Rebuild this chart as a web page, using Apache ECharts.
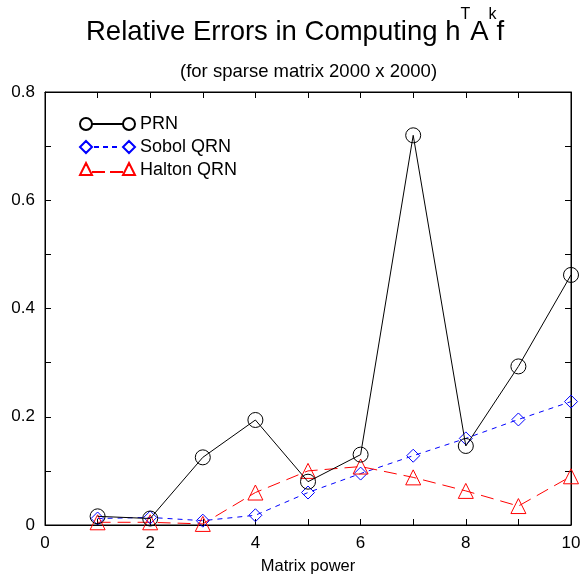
<!DOCTYPE html>
<html>
<head>
<meta charset="utf-8">
<script src="https://cdn.jsdelivr.net/npm/echarts@6/dist/echarts.min.js"></script>
<style>
  html, body { margin: 0; padding: 0; background: #fff; }
  #chart { width: 583px; height: 576px; }
</style>
</head>
<body>
<div id="chart"></div>
<script>
// matrix power k
var powers = [1, 2, 3, 4, 5, 6, 7, 8, 9, 10]
// relative errors
var prn = [0.016, 0.012, 0.125, 0.194, 0.080, 0.130, 0.720, 0.146, 0.293, 0.462]
var sobol = [0.012, 0.014, 0.008, 0.018, 0.060, 0.095, 0.128, 0.160, 0.195, 0.228]
var halton = [0.005, 0.005, 0.002, 0.060, 0.100, 0.108, 0.088, 0.063, 0.035, 0.090]

function pairs(ys) {
  return powers.map(function (k, i) { return [k, ys[i]] })
}

var font = 'Liberation Sans, Arial, Helvetica, sans-serif'
var chart = echarts.init(document.getElementById('chart'))

function tickStyle() {
  return { show: true, inside: true, length: 6, lineStyle: { color: '#000' } }
}

// legend icons: marker - line - marker, like the gnuplot key (55 x 14 box)
var iconPRN = 'path://M0 7A6 6 0 1 0 12 7A6 6 0 1 0 0 7Z' +
  'M12 7L43 7' +
  'M43 7A6 6 0 1 0 55 7A6 6 0 1 0 43 7Z'
var iconSobol = 'path://M6 1L12 7L6 13L0 7Z' +
  'M14 7L19 7M23 7L28 7M32 7L37 7' +
  'M49 1L55 7L49 13L43 7Z' + 'M6 0L6 0M6 14L6 14'
var iconHalton = 'path://M6 0L12 12L0 12Z' +
  'M12 9L25 9M30 9L43 9' +
  'M49 0L55 12L43 12Z' + 'M6 14L6 14'

chart.setOption({
  animation: false,
  textStyle: { fontFamily: font },
  title: [{
    text: '{a|Relative Errors in Computing h}{s|T}{a|A}{s|k}{a|f}',
    left: 81,
    top: 1,
    textStyle: {
      rich: {
        a: { fontSize: 27.5, fontWeight: 'normal', color: '#000', fontFamily: font, lineHeight: 40, verticalAlign: 'bottom' },
        s: { fontSize: 16, fontWeight: 'normal', color: '#000', fontFamily: font, lineHeight: 16, verticalAlign: 'bottom', padding: [0, 0, 23, 0] }
      }
    }
  }, {
    text: '(for sparse matrix 2000 x 2000)',
    left: 175,
    top: 57,
    textStyle: { fontSize: 18.5, fontWeight: 'normal', color: '#000', fontFamily: font }
  }],
  legend: {
    orient: 'vertical',
    left: 74,
    top: 110,
    itemWidth: 55,
    itemHeight: 14,
    itemGap: 5,
    textStyle: { fontSize: 18, color: '#000', fontFamily: font },
    data: [
      { name: 'PRN', icon: iconPRN },
      { name: 'Sobol QRN', icon: iconSobol },
      { name: 'Halton QRN', icon: iconHalton }
    ]
  },
  grid: {
    left: 45, right: 12, top: 92, bottom: 51,
    outerBoundsMode: 'none',
    containLabel: false,
    show: true, borderColor: '#000', borderWidth: 1
  },
  xAxis: [{
    type: 'value',
    min: 0,
    max: 10,
    interval: 1,
    name: 'Matrix power',
    nameLocation: 'middle',
    nameGap: 33,
    nameTextStyle: { fontSize: 16.5, color: '#000', fontFamily: font },
    axisLine: { show: true, lineStyle: { color: '#000' } },
    axisTick: tickStyle(),
    splitLine: { show: false },
    axisLabel: {
      fontSize: 17, color: '#000', margin: 10,
      formatter: function (v) { return v % 2 === 0 ? String(v) : '' }
    }
  }, {
    // mirrored top axis, ticks only (labels invisible)
    type: 'value',
    min: 0,
    max: 10,
    interval: 1,
    axisLine: { show: true, onZero: false, lineStyle: { color: '#000' } },
    axisTick: tickStyle(),
    splitLine: { show: false },
    axisLabel: { color: 'rgba(0,0,0,0)', fontSize: 1 }
  }],
  yAxis: [{
    type: 'value',
    min: 0,
    max: 0.8,
    interval: 0.1,
    axisLine: { show: true, lineStyle: { color: '#000' } },
    axisTick: tickStyle(),
    splitLine: { show: false },
    axisLabel: {
      fontSize: 17, color: '#000', margin: 10,
      formatter: function (v) {
        var t = Math.round(v * 10)
        if (t % 2 !== 0) return ''
        return t === 0 ? '0' : (t / 10).toFixed(1)
      }
    }
  }, {
    // mirrored right axis, ticks only (labels invisible)
    type: 'value',
    min: 0,
    max: 0.8,
    interval: 0.1,
    axisLine: { show: true, onZero: false, lineStyle: { color: '#000' } },
    axisTick: tickStyle(),
    splitLine: { show: false },
    axisLabel: { color: 'rgba(0,0,0,0)', fontSize: 1 }
  }],
  series: [{
    name: 'PRN',
    type: 'line',
    data: pairs(prn),
    symbol: 'circle',
    symbolSize: 15,
    itemStyle: { color: 'rgba(255,255,255,0)', borderColor: '#000', borderWidth: 1 },
    lineStyle: { color: '#000', width: 1 },
    z: 3
  }, {
    name: 'Sobol QRN',
    type: 'line',
    data: pairs(sobol),
    symbol: 'diamond',
    symbolSize: 13,
    itemStyle: { color: 'rgba(0,0,0,0)', borderColor: '#0000ff', borderWidth: 1 },
    lineStyle: { color: '#0000ff', width: 1, type: [5, 5] },
    z: 2
  }, {
    name: 'Halton QRN',
    type: 'line',
    data: pairs(halton),
    symbol: 'triangle',
    symbolSize: 15,
    itemStyle: { color: 'rgba(0,0,0,0)', borderColor: '#ff0000', borderWidth: 1 },
    lineStyle: { color: '#ff0000', width: 1, type: [13, 7] },
    z: 2
  }, {
    // invisible copy bound to the mirrored top/right axes so they get drawn
    name: 'frame',
    type: 'line',
    xAxisIndex: 1,
    yAxisIndex: 1,
    data: pairs(prn),
    symbol: 'none',
    lineStyle: { opacity: 0 },
    silent: true
  }]
})
</script>
</body>
</html>
